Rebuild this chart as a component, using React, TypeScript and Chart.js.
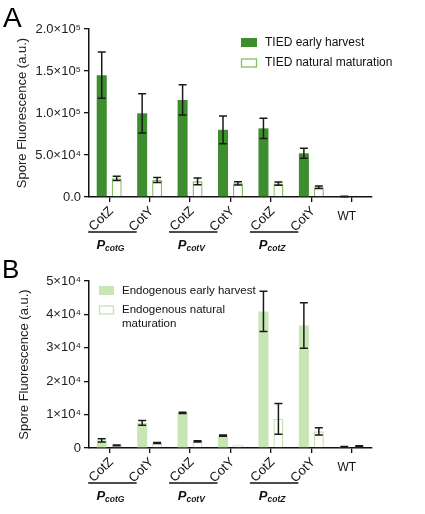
import React, { useEffect, useRef } from "react";
import { Chart, registerables } from "chart.js";

Chart.register(...registerables);

const FONT = '"Liberation Sans", Arial, Helvetica, sans-serif';

// ---- data ----
const categories = ["CotZ", "CotY", "CotZ", "CotY", "CotZ", "CotY", "WT"];
const promoterSubs = ["cotG", "cotV", "cotZ"];

const tiedEarly = [145000, 99600, 115500, 80000, 81700, 52000, 700];
const tiedEarlyErr = [27500, 23400, 18000, 16500, 12000, 6000, 300];
const tiedNatural = [22200, 20200, 18700, 16300, 16000, 11500, 0];
const tiedNaturalErr = [2600, 3000, 4000, 2000, 2000, 1500, 0];

const endoEarly = [2300, 7500, 10500, 3700, 40900, 36700, 350];
const endoEarlyErr = [500, 700, 200, 200, 6000, 6800, 100];
const endoNatural = [800, 1500, 2000, 800, 8700, 5000, 550];
const endoNaturalErr = [100, 150, 200, 0, 4600, 1100, 100];

const ticksA = [0, 50000, 100000, 150000, 200000];
const tickLabelsA = ["0.0", "5.0×10⁴", "1.0×10⁵", "1.5×10⁵", "2.0×10⁵"];
const ticksB = [0, 10000, 20000, 30000, 40000, 50000];
const tickLabelsB = ["0", "1×10⁴", "2×10⁴", "3×10⁴", "4×10⁴", "5×10⁴"];

const legendA = ["TIED early harvest", "TIED natural maturation"];
const legendB = ["Endogenous early harvest", "Endogenous natural\nmaturation"];

const errorBarPlugin = {
  id: "errorBars",
  afterDatasetsDraw(chart: any) {
    const ctx = chart.ctx;
    const y = chart.scales.y;
    chart.data.datasets.forEach((ds: any, i: number) => {
      const meta = chart.getDatasetMeta(i);
      meta.data.forEach((bar: any, j: number) => {
        const v = ds.data[j];
        const e = ds.errors[j];
        if (!e) return;
        const x = bar.x;
        const yt = y.getPixelForValue(v + e);
        const yb = y.getPixelForValue(Math.max(0, v - e));
        ctx.save();
        ctx.strokeStyle = "#1a1a1a";
        ctx.lineWidth = 1.5;
        ctx.beginPath();
        ctx.moveTo(x, yt);
        ctx.lineTo(x, yb);
        ctx.moveTo(x - 4, yt);
        ctx.lineTo(x + 4, yt);
        ctx.moveTo(x - 4, yb);
        ctx.lineTo(x + 4, yb);
        ctx.stroke();
        ctx.restore();
      });
    });
  },
};

function makeOverlay(opts: any) {
  return {
    id: "overlay" + opts.letter,
    afterDraw(chart: any) {
      const ctx = chart.ctx;
      const xs = chart.scales.x;
      const axisY = chart.chartArea.bottom;
      ctx.save();
      ctx.fillStyle = "#111";
      // category labels
      categories.forEach((lab, i) => {
        const x = xs.getPixelForValue(i);
        if (lab === "WT") {
          ctx.font = `12px ${FONT}`;
          ctx.textAlign = "center";
          ctx.textBaseline = "middle";
          ctx.fillText(lab, x - 5, axisY + 20);
        } else {
          ctx.save();
          ctx.translate(x + 2, axisY + 12);
          ctx.rotate(-Math.PI / 4);
          ctx.font = `13px ${FONT}`;
          ctx.textAlign = "right";
          ctx.textBaseline = "middle";
          ctx.fillText(lab, 0, 0);
          ctx.restore();
        }
      });
      // promoter groups
      promoterSubs.forEach((sub, g) => {
        const xz = xs.getPixelForValue(g * 2);
        const xy = xs.getPixelForValue(g * 2 + 1);
        const x0 = xz - 21;
        const x1 = xy - 13;
        ctx.strokeStyle = "#111";
        ctx.lineWidth = 1.3;
        ctx.beginPath();
        ctx.moveTo(x0, axisY + 35);
        ctx.lineTo(x1, axisY + 35);
        ctx.stroke();
        ctx.font = `italic bold 13px ${FONT}`;
        const wP = ctx.measureText("P").width;
        ctx.font = `italic bold 8.5px ${FONT}`;
        const wS = ctx.measureText(sub).width;
        const cx = (x0 + x1) / 2 - 2;
        const sx = cx - (wP + wS) / 2;
        ctx.textAlign = "left";
        ctx.textBaseline = "alphabetic";
        ctx.font = `italic bold 13px ${FONT}`;
        ctx.fillText("P", sx, axisY + 52);
        ctx.font = `italic bold 8.5px ${FONT}`;
        ctx.fillText(sub, sx + wP, axisY + 54);
      });
      // panel letter
      ctx.font = `${opts.letterSize}px ${FONT}`;
      ctx.textAlign = "left";
      ctx.textBaseline = "alphabetic";
      ctx.fillStyle = "#000";
      ctx.fillText(opts.letter, opts.letterX, opts.letterY);
      // legend
      const L = opts.legend;
      ctx.font = `${L.size}px ${FONT}`;
      ctx.textBaseline = "middle";
      ctx.fillStyle = opts.earlyColor;
      ctx.fillRect(L.x, L.y1 - 4.5, L.bw, 9);
      ctx.strokeStyle = opts.naturalBorder;
      ctx.lineWidth = 1.3;
      ctx.strokeRect(L.x + 0.5, L.y2 - 4, L.bw - 1, 8);
      ctx.fillStyle = "#111";
      ctx.fillText(opts.legendLabels[0], L.tx, L.y1);
      opts.legendLabels[1].split("\n").forEach((line: string, k: number) => {
        ctx.fillText(line, L.tx, L.y2 + k * L.lh);
      });
      ctx.restore();
    },
  };
}

function buildChart(canvas: HTMLCanvasElement, o: any) {
  return new Chart(canvas, {
    type: "bar",
    data: {
      labels: categories,
      datasets: [
        {
          label: o.legendLabels[0],
          data: o.early,
          errors: o.earlyErr,
          backgroundColor: o.earlyColor,
          borderWidth: 0,
          categoryPercentage: 0.74,
          barPercentage: 0.67,
        } as any,
        {
          label: o.legendLabels[1],
          data: o.natural,
          errors: o.naturalErr,
          backgroundColor: "#ffffff",
          borderColor: o.naturalBorder,
          borderWidth: 1.4,
          categoryPercentage: 0.74,
          barPercentage: 0.67,
        } as any,
      ],
    },
    options: {
      responsive: false,
      animation: false,
      layout: { padding: { top: o.top, right: 53, left: 0, bottom: 0 } },
      plugins: { legend: { display: false }, tooltip: { enabled: false } },
      scales: {
        x: {
          offset: true,
          grid: {
            offset: false,
            drawOnChartArea: false,
            drawTicks: true,
            tickLength: 5,
            color: "#111",
            lineWidth: 1.3,
          },
          border: { color: "#111", width: 1.5 },
          ticks: { display: false },
          afterFit: (s: any) => {
            s.height = o.height - o.bottom;
          },
        },
        y: {
          min: 0,
          max: o.ticks[o.ticks.length - 1],
          grid: {
            drawOnChartArea: false,
            drawTicks: true,
            tickLength: 5,
            color: "#111",
            lineWidth: 1.3,
          },
          border: { color: "#111", width: 1.5 },
          afterBuildTicks: (s: any) => {
            s.ticks = o.ticks.map((v: number) => ({ value: v }));
          },
          ticks: {
            padding: 3,
            color: "#222",
            font: { family: FONT, size: 13 },
            callback: (v: any) => {
              const idx = o.ticks.indexOf(Number(v));
              return idx >= 0 ? o.tickLabels[idx] : "";
            },
          },
          title: {
            display: true,
            text: "Spore Fluorescence (a.u.)",
            color: "#222",
            font: { family: FONT, size: 13 },
            padding: { top: o.titlePad, bottom: 0 },
          },
          afterFit: (s: any) => {
            s.width = 89;
          },
        },
      },
    },
    plugins: [errorBarPlugin, makeOverlay(o)],
  } as any);
}

export default function App() {
  const refA = useRef<HTMLCanvasElement>(null);
  const refB = useRef<HTMLCanvasElement>(null);

  useEffect(() => {
    const greenA = "#3e8e2f";
    const borderA = "#82bf5e";
    const greenB = "#c8e6b4";
    const borderB = "#c4e3b2";
    const a = buildChart(refA.current!, {
      height: 256,
      top: 29,
      bottom: 197,
      early: tiedEarly,
      earlyErr: tiedEarlyErr,
      natural: tiedNatural,
      naturalErr: tiedNaturalErr,
      earlyColor: greenA,
      naturalBorder: borderA,
      ticks: ticksA,
      tickLabels: tickLabelsA,
      titlePad: 15,
      legendLabels: legendA,
      letter: "A",
      letterX: 3,
      letterY: 27,
      letterSize: 28,
      legend: { x: 241, bw: 16, tx: 265, y1: 42.5, y2: 63, size: 12, lh: 14 },
    });
    const b = buildChart(refB.current!, {
      height: 258,
      top: 25,
      bottom: 192,
      early: endoEarly,
      earlyErr: endoEarlyErr,
      natural: endoNatural,
      naturalErr: endoNaturalErr,
      earlyColor: greenB,
      naturalBorder: borderB,
      ticks: ticksB,
      tickLabels: tickLabelsB,
      titlePad: 17,
      legendLabels: legendB,
      letter: "B",
      letterX: 2,
      letterY: 22,
      letterSize: 26,
      legend: { x: 99, bw: 15, tx: 122, y1: 34.5, y2: 54, size: 11.5, lh: 14 },
    });
    return () => {
      a.destroy();
      b.destroy();
    };
  }, []);

  return (
    <div style={{ position: "absolute", left: 0, top: 0, width: 425, height: 514, background: "#fff" }}>
      <canvas ref={refA} width={425} height={256} style={{ display: "block", position: "absolute", left: 0, top: 0 }} />
      <canvas ref={refB} width={425} height={258} style={{ display: "block", position: "absolute", left: 0, top: 256 }} />
    </div>
  );
}
